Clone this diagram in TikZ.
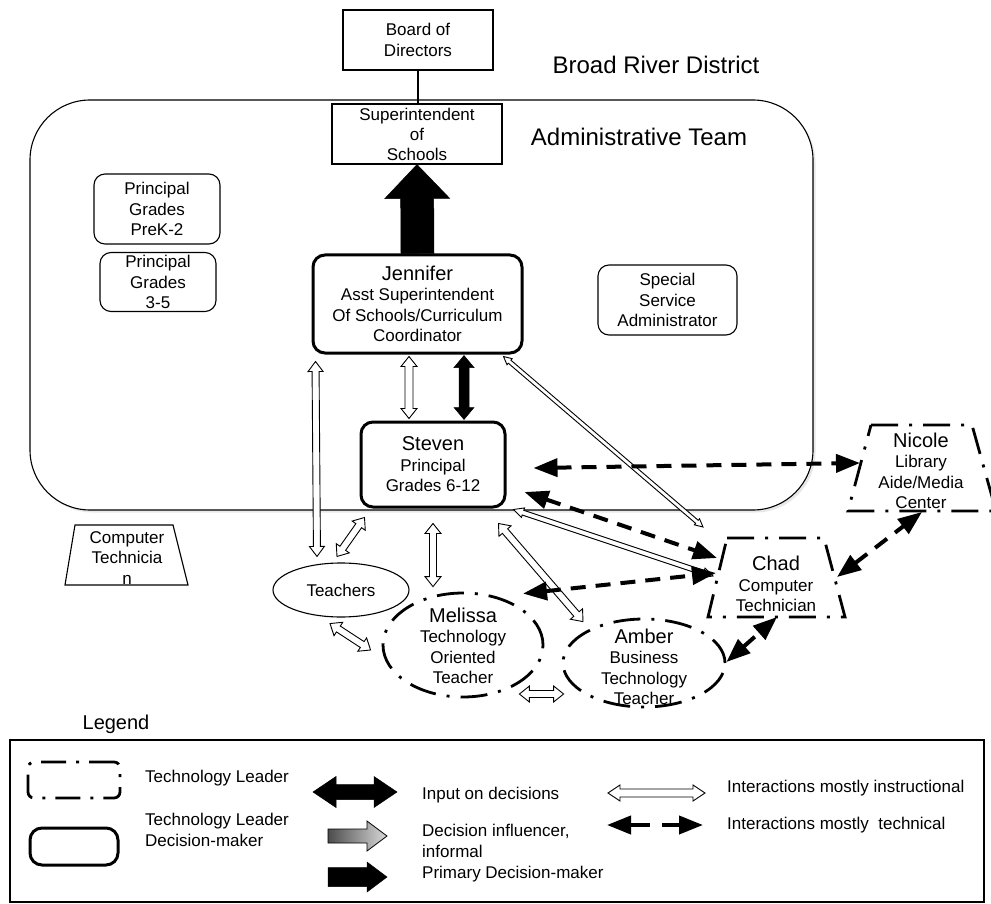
\documentclass[tikz,border=0pt]{standalone}
\usepackage{fontspec}
\setmainfont{Liberation Sans}
\usetikzlibrary{calc,arrows.meta,shapes.geometric,shadows}

% Block arrow with a head at both ends:
% #1 style, #2 first end, #3 second end, #4 half shaft width, #5 half head width, #6 head length
\newcommand{\twohead}[6]{%
  \coordinate (bkA) at #2;
  \coordinate (bkB) at #3;
  \coordinate (bkP) at ($(bkA)!#6!(bkB)$);
  \coordinate (bkQ) at ($(bkB)!#6!(bkA)$);
  \path[#1] (bkA) -- ($(bkP)!#5!90:(bkB)$) -- ($(bkP)!#4!90:(bkB)$)
    -- ($(bkQ)!#4!-90:(bkA)$) -- ($(bkQ)!#5!-90:(bkA)$) -- (bkB)
    -- ($(bkQ)!#5!90:(bkA)$) -- ($(bkQ)!#4!90:(bkA)$)
    -- ($(bkP)!#4!-90:(bkB)$) -- ($(bkP)!#5!-90:(bkB)$) -- cycle;}

% Block arrow with one head, at the second end
\newcommand{\onehead}[6]{%
  \coordinate (bkA) at #2;
  \coordinate (bkB) at #3;
  \coordinate (bkQ) at ($(bkB)!#6!(bkA)$);
  \path[#1] ($(bkA)!#4!90:(bkB)$) -- ($(bkQ)!#4!-90:(bkA)$)
    -- ($(bkQ)!#5!-90:(bkA)$) -- (bkB) -- ($(bkQ)!#5!90:(bkA)$)
    -- ($(bkQ)!#4!90:(bkA)$) -- ($(bkA)!#4!-90:(bkB)$) -- cycle;}

\newcommand{\nm}[1]{{\fontsize{20}{22}\selectfont #1}}

\tikzset{
  txt/.style={font=\fontsize{17}{20.5}\selectfont, align=center, inner sep=0pt},
  title/.style={font=\fontsize{24}{28}\selectfont, inner sep=0pt},
  thinbox/.style={draw, line width=1.1pt, fill=white, txt},
  roundbox/.style={thinbox, rounded corners=11pt},
  leadbox/.style={draw, line width=3pt, rounded corners=12pt, fill=white, txt},
  techlead/.style={draw, line width=2.8pt, dash pattern=on 27pt off 11pt on 3pt off 11pt},
  openarr/.style={draw=black, fill=white, line width=0.9pt, line join=miter},
  solidarr/.style={draw=black, fill=black, line width=0.5pt, line join=miter},
  grayarr/.style={draw=black, line width=0.8pt, left color=black!70, right color=black!15},
  techarr/.style={line width=4pt, dash pattern=on 15pt off 10pt,
    {Triangle[length=24pt,width=18pt]}-{Triangle[length=24pt,width=18pt]}},
  legtxt/.style={txt, anchor=west, align=left},
}

\begin{document}
\begin{tikzpicture}[x=1pt, y=-1pt]
\useasboundingbox (0,0) rectangle (991,904);

% ---- district and administrative team ----
\node[draw, line width=1.1pt, fill=white, rounded corners=60pt, minimum width=783pt,
      minimum height=410pt, inner sep=0pt,
      drop shadow={opacity=0.18, shadow xshift=2.5pt, shadow yshift=-2.5pt}] (admin) at (421.5,305) {};
\node[title] (district) at (656,65) {Broad River District};
\node[title] (adminlbl) at (639,137) {Administrative Team};

\node[thinbox, minimum width=150pt, minimum height=60pt] (board) at (418,40) {Board of\\Directors};
\draw[line width=1.1pt] (board.south) -- (board.south |- 0,104);
\node[thinbox, minimum width=170pt, minimum height=60pt, font=\fontsize{17}{20}\selectfont]
  (sup) at (417,134) {Superintendent\\of\\Schools};

\node[roundbox, minimum width=126pt, minimum height=70pt] (pk2) at (157,209) {Principal\\Grades\\PreK-2};
\node[roundbox, minimum width=116pt, minimum height=59pt] (p35) at (158,282) {Principal\\Grades\\3-5};
\node[roundbox, minimum width=139pt, minimum height=70pt] (ssa) at (667.5,300) {Special\\Service\\Administrator};

\node[leadbox, minimum width=209pt, minimum height=98pt] (jen) at (417.5,304)
  {\nm{Jennifer}\\Asst Superintendent\\Of Schools/Curriculum\\Coordinator};
\node[leadbox, minimum width=144pt, minimum height=85pt] (stv) at (433,464.5)
  {\nm{Steven}\\Principal\\Grades 6-12};

% ---- people outside the team ----
\coordinate (ctTL) at (75,525);  \coordinate (ctTR) at (173,525);
\coordinate (ctBR) at (188,585); \coordinate (ctBL) at (65,585);
\draw[line width=1.1pt] (ctTL) -- (ctTR) -- (ctBR) -- (ctBL) -- cycle;
\node[txt] (comptech) at (127,558) {Computer\\Technicia\\n};

\node[ellipse, draw, line width=1.1pt, minimum width=136pt, minimum height=54pt, txt]
  (tea) at (341,590) {Teachers};

\node[ellipse, techlead, minimum width=160pt, minimum height=104pt, inner sep=0pt] (mel) at (463,645) {};
\node[txt] (meltxt) at (463,646) {\nm{Melissa}\\Technology\\Oriented\\Teacher};

\node[ellipse, techlead, minimum width=162pt, minimum height=88pt, inner sep=0pt] (amb) at (644,663) {};
\node[txt] (ambtxt) at (644,667) {\nm{Amber}\\Business\\Technology\\Teacher};

\coordinate (chTL) at (727,538); \coordinate (chTR) at (824,538);
\coordinate (chBR) at (845,617); \coordinate (chBL) at (708,617);
\draw[techlead] (chTL) -- (chTR) -- (chBR) -- (chBL) -- cycle;
\node[txt] (chad) at (776,584) {\nm{Chad}\\Computer\\Technician};

\coordinate (niTL) at (871,425); \coordinate (niTR) at (972,425);
\coordinate (niBR) at (996,511); \coordinate (niBL) at (848,511);
\draw[techlead] (niTL) -- (niTR) -- (niBR) -- (niBL) -- cycle;
\node[txt] (nicole) at (921,471) {\nm{Nicole}\\Library\\Aide/Media\\Center};

% ---- decision arrows ----
\onehead{solidarr}{(jen.north)}{(sup.south)}{16.5pt}{32.5pt}{34pt}
\twohead{solidarr}{($(jen.south)+(46.5,1)$)}{($(stv.north)+(31,-1)$)}{5pt}{10pt}{12pt}

% ---- instructional interactions ----
\twohead{openarr}{($(jen.south)+(-8.5,2)$)}{($(stv.north)+(-24,-2)$)}{4pt}{8pt}{10pt}
\twohead{openarr}{($(jen.south west)+(4,7)$)}{($(tea.north)+(-24,-6)$)}{3.5pt}{7.5pt}{10pt}
\twohead{openarr}{($(tea.north)+(-4,-6)$)}{($(stv.south west)+(5,9)$)}{3.5pt}{8pt}{10pt}
\twohead{openarr}{($(stv.south)+(0,15)$)}{($(mel.north)+(-30,-5)$)}{3.5pt}{8pt}{10pt}
\twohead{openarr}{($(stv.south east)+(-8,15)$)}{($(amb.north)+(-61,4)$)}{3.5pt}{8pt}{10pt}
\twohead{openarr}{($(tea.south)+(-11,6)$)}{($(mel.west)+(-11,5)$)}{3.5pt}{8pt}{10pt}
\twohead{openarr}{($(mel.east)+(-25,49)$)}{($(amb.west)+(2,31)$)}{3.5pt}{8pt}{10pt}
\twohead{openarr}{($(jen.south east)+(-20,2)$)}{($(chTL)+(-24,-11)$)}{2pt}{4pt}{8pt}
\twohead{openarr}{($(stv.south east)+(7,1)$)}{($(chBL)+(5,-41)$)}{2.5pt}{5pt}{10pt}

% ---- technical interactions ----
\draw[techarr] ($(stv.east)+(27,3.5)$) -- ($(niBL)+(12,-48)$);
\draw[techarr] ($(stv.east)+(18,27.5)$) -- ($(chTL)+(-10,20)$);
\draw[techarr] ($(mel.north)+(60,2)$) -- ($(chTL)+(-11,35)$);
\draw[techarr] ($(chTR)+(13,39)$) -- ($(niBL)+(74,1)$);
\draw[techarr] ($(amb.east)+(0,-1)$) -- ($(chBL)+(69,0)$);

% ---- legend ----
\node[txt, font=\fontsize{20}{22}\selectfont] (leglbl) at (116,724) {Legend};
\node[draw, line width=1.1pt, minimum width=974pt, minimum height=162pt, inner sep=0pt]
  (legbox) at (497,821) {};

\node[techlead, rounded corners=6pt, dash pattern=on 25pt off 10pt on 3pt off 10pt,
      minimum width=92pt, minimum height=36pt, inner sep=0pt] (lgTL) at (74,780) {};
\node[leadbox, minimum width=88pt, minimum height=37pt] (lgDM) at (74,846.5) {};
\node[legtxt] (lgTLt) at (145,778) {Technology Leader};
\node[legtxt] (lgDMt) at (145,830) {Technology Leader\\Decision-maker};

\coordinate (liA) at (313,792); \coordinate (liB) at (397,792);
\twohead{solidarr}{(liA)}{(liB)}{7.5pt}{15.5pt}{23pt}
\node[legtxt] (liT) at (422,795) {Input on decisions};

\coordinate (lgA) at (328,836); \coordinate (lgB) at (387,836);
\onehead{grayarr}{(lgA)}{(lgB)}{7pt}{15pt}{20pt}
\node[legtxt] (lgT) at (422,841) {Decision influencer,\\informal};

\coordinate (lpA) at (328,877); \coordinate (lpB) at (387,877);
\onehead{solidarr}{(lpA)}{(lpB)}{9.5pt}{15pt}{20pt}
\node[legtxt] (lpT) at (422,874) {Primary Decision-maker};

\coordinate (loA) at (608,793); \coordinate (loB) at (705,793);
\twohead{openarr}{(loA)}{(loB)}{4pt}{8pt}{12pt}
\node[legtxt] (loT) at (727,788) {Interactions mostly instructional};

\coordinate (ldA) at (607,825); \coordinate (ldB) at (703,825);
\draw[techarr, dash pattern=on 20pt off 12pt] (ldA) -- (ldB);
\node[legtxt] (ldT) at (727,825) {Interactions mostly\ \ technical};
\end{tikzpicture}
\end{document}
